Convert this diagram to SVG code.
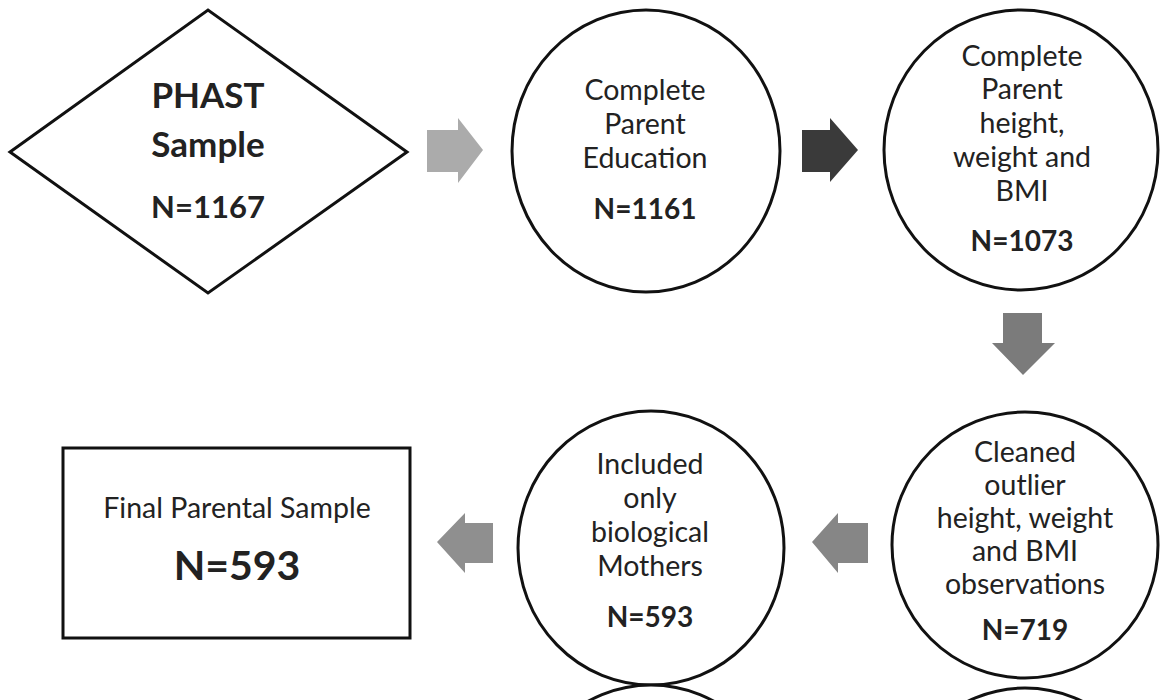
<svg xmlns="http://www.w3.org/2000/svg" width="1160" height="700" viewBox="0 0 1160 700">
<style>
.shape{fill:#fff;stroke:#111;stroke-width:3}
.t{font-family:Lato,"Liberation Sans",sans-serif;font-size:28.5px;fill:#222;text-anchor:middle}
.n{font-family:Lato,"Liberation Sans",sans-serif;font-size:28px;font-weight:bold;fill:#222;text-anchor:middle}
.d{font-family:Lato,"Liberation Sans",sans-serif;font-size:35px;font-weight:bold;fill:#222;text-anchor:middle}
.dn{font-family:Lato,"Liberation Sans",sans-serif;font-size:31px;font-weight:bold;fill:#222;text-anchor:middle}
.f{font-family:Lato,"Liberation Sans",sans-serif;font-size:28.5px;fill:#222;text-anchor:middle}
.fn{font-family:Lato,"Liberation Sans",sans-serif;font-size:41px;font-weight:bold;fill:#222;text-anchor:middle}
</style>
<rect width="1160" height="700" fill="#fff"/>
<g id="connectors">
<polygon points="427,130 458,130 458,118 483,150 458,183 458,172 427,172" fill="#ababab"/>
<polygon points="802,130 830,130 830,118 858,150 830,182 830,172 802,172" fill="#3a3a3a"/>
<polygon points="1003,313 1042,313 1042,343 1055,343 1023,375 992,343 1003,343" fill="#7b7b7b"/>
<polygon points="493,523 465,523 465,513 437,542 465,573 465,563 493,563" fill="#8f8f8f"/>
<polygon points="868,523 838,523 838,513 812,542 838,573 838,563 868,563" fill="#868686"/>
</g>
<g id="phast">
<polygon class="shape" points="10,152 208,10 407,152 208,293"/>
<text class="d" x="208" y="108">PHAST</text>
<text class="d" x="208" y="157">Sample</text>
<text class="dn" x="208" y="218">N=1167</text>
</g>
<g id="education">
<ellipse class="shape" cx="646" cy="151" rx="134" ry="141"/>
<text class="t" x="645" y="100">Complete</text>
<text class="t" x="645" y="134">Parent</text>
<text class="t" x="645" y="168">Education</text>
<text class="n" x="645" y="219">N=1161</text>
</g>
<g id="anthro">
<ellipse class="shape" cx="1021" cy="150" rx="137" ry="140"/>
<text class="t" x="1022" y="66">Complete</text>
<text class="t" x="1022" y="99">Parent</text>
<text class="t" x="1022" y="133">height,</text>
<text class="t" x="1022" y="167">weight and</text>
<text class="t" x="1022" y="201">BMI</text>
<text class="n" x="1022" y="251">N=1073</text>
</g>
<g id="cleaned">
<ellipse class="shape" cx="1025" cy="545" rx="133" ry="133"/>
<text class="t" x="1025" y="462">Cleaned</text>
<text class="t" x="1025" y="495">outlier</text>
<text class="t" x="1025" y="528">height, weight</text>
<text class="t" x="1025" y="561">and BMI</text>
<text class="t" x="1025" y="594">observations</text>
<text class="n" x="1025" y="640">N=719</text>
</g>
<g id="mothers">
<ellipse class="shape" cx="651" cy="548" rx="133" ry="137"/>
<text class="t" x="650" y="474">Included</text>
<text class="t" x="650" y="508">only</text>
<text class="t" x="650" y="542">biological</text>
<text class="t" x="650" y="576">Mothers</text>
<text class="n" x="650" y="627">N=593</text>
</g>
<g id="final">
<rect class="shape" x="63" y="448" width="347" height="190"/>
<text class="f" x="237" y="518">Final Parental Sample</text>
<text class="fn" x="237" y="580">N=593</text>
</g>
<g id="next-left">
<ellipse class="shape" cx="651" cy="822" rx="133" ry="137"/>
</g>
<g id="next-right">
<ellipse class="shape" cx="1025" cy="825" rx="133" ry="137"/>
</g>
</svg>
